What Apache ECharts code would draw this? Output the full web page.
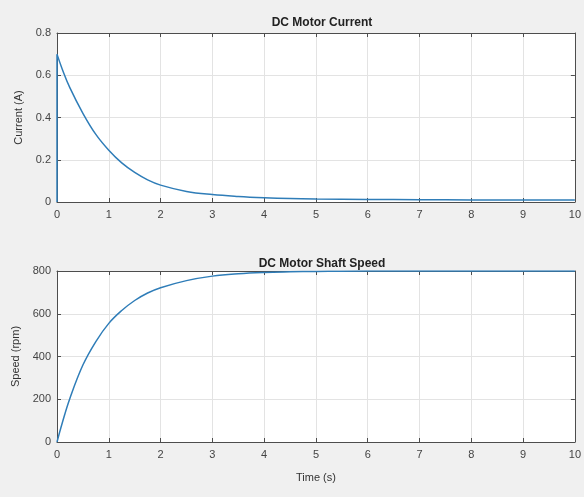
<!DOCTYPE html>
<html>
<head>
<meta charset="utf-8">
<script src="https://cdn.jsdelivr.net/npm/echarts@6/dist/echarts.min.js"></script>
<style>
  html, body { margin: 0; padding: 0; background: #f0f0f0; }
  #chart { width: 584px; height: 497px; }
</style>
</head>
<body>
<div id="chart"></div>
<script>
// time points (s)
const timeCurrent = [0, 0, 0.1, 0.25, 0.5, 0.75, 1, 1.25, 1.5, 1.75, 2, 2.5, 3, 3.5, 4, 4.5, 5, 6, 7, 8, 9, 10];
// current (A)
const currentVals = [0, 0.70, 0.63, 0.54, 0.42, 0.32, 0.245, 0.185, 0.14, 0.105, 0.08, 0.05, 0.035, 0.026, 0.02, 0.016, 0.014, 0.012, 0.011, 0.01, 0.01, 0.01];

const timeSpeed = [0, 0.1, 0.25, 0.5, 0.75, 1, 1.25, 1.5, 1.75, 2, 2.5, 3, 3.5, 4, 4.5, 5, 6, 7, 8, 9, 10];
// speed (rpm)
const speedVals = [0, 88, 205, 360, 470, 555, 615, 662, 697, 722, 755, 776, 787, 793, 796, 798, 800, 800, 800, 800, 800];

const myChart = echarts.init(document.getElementById('chart'));

const font = 'Liberation Sans, Arial, sans-serif';
const axisCol = '#4d4d4d';
const gridCol = '#e3e3e3';
const lineCol = '#2f7db8';

function pairs(xs, ys) {
  let out = [];
  for (let i = 0; i < xs.length; i++) out.push([xs[i], ys[i]]);
  return out;
}

// main x axis (bottom, labelled) + mirrored one on top with ticks only
function xAxes(gridIndex, withName) {
  return [
    {
      type: 'value', gridIndex: gridIndex, min: 0, max: 10, interval: 1,
      position: 'bottom',
      name: withName ? 'Time (s)' : '',
      nameLocation: 'middle', nameGap: 30,
      nameTextStyle: { color: '#333', fontSize: 11, fontFamily: font },
      axisLine: { show: true, onZero: false, lineStyle: { color: axisCol, width: 1 } },
      axisTick: { show: true, inside: true, length: 4, lineStyle: { color: axisCol } },
      axisLabel: { color: '#444', fontSize: 11, fontFamily: font, margin: 7 },
      splitLine: { show: true, lineStyle: { color: gridCol, width: 1 } }
    },
    {
      type: 'value', gridIndex: gridIndex, min: 0, max: 10, interval: 1,
      position: 'top',
      axisLine: { show: true, onZero: false, lineStyle: { color: axisCol, width: 1 } },
      axisTick: { show: true, inside: true, length: 4, lineStyle: { color: axisCol } },
      axisLabel: { show: false },
      splitLine: { show: false }
    }
  ];
}

function yAxes(gridIndex, max, interval, name) {
  return [
    {
      type: 'value', gridIndex: gridIndex, min: 0, max: max, interval: interval,
      position: 'left',
      name: name, nameLocation: 'middle', nameGap: 32, nameRotate: 90,
      nameTextStyle: { color: '#333', fontSize: 11, fontFamily: font },
      axisLine: { show: true, onZero: false, lineStyle: { color: axisCol, width: 1 } },
      axisTick: { show: true, inside: true, length: 4, lineStyle: { color: axisCol } },
      axisLabel: { color: '#444', fontSize: 11, fontFamily: font, margin: 6 },
      splitLine: { show: true, lineStyle: { color: gridCol, width: 1 } }
    },
    {
      type: 'value', gridIndex: gridIndex, min: 0, max: max, interval: interval,
      position: 'right',
      axisLine: { show: true, onZero: false, lineStyle: { color: axisCol, width: 1 } },
      axisTick: { show: true, inside: true, length: 4, lineStyle: { color: axisCol } },
      axisLabel: { show: false },
      splitLine: { show: false }
    }
  ];
}

let option = {
  backgroundColor: '#f0f0f0',
  animation: false,
  title: [
    {
      text: 'DC Motor Current', left: 317, top: 12, textAlign: 'center',
      textStyle: { fontSize: 12, fontWeight: 'bold', color: '#222', fontFamily: font }
    },
    {
      text: 'DC Motor Shaft Speed', left: 317, top: 253, textAlign: 'center',
      textStyle: { fontSize: 12, fontWeight: 'bold', color: '#222', fontFamily: font }
    }
  ],
  grid: [
    { left: 57, right: 7, top: 33, height: 169, show: true, backgroundColor: '#fff', borderWidth: 0 },
    { left: 57, right: 7, top: 271, height: 171, show: true, backgroundColor: '#fff', borderWidth: 0 }
  ],
  xAxis: xAxes(0, false).concat(xAxes(1, true)),
  yAxis: yAxes(0, 0.8, 0.2, 'Current (A)').concat(yAxes(1, 800, 200, 'Speed (rpm)')),
  series: [
    {
      type: 'line', xAxisIndex: 0, yAxisIndex: 0,
      data: pairs(timeCurrent, currentVals),
      showSymbol: false, smooth: 0.4,
      lineStyle: { color: lineCol, width: 1.5 }
    },
    {
      type: 'line', xAxisIndex: 2, yAxisIndex: 2,
      data: pairs(timeSpeed, speedVals),
      showSymbol: false, smooth: 0.4,
      lineStyle: { color: lineCol, width: 1.5 }
    }
  ]
};

myChart.setOption(option);
</script>
</body>
</html>
